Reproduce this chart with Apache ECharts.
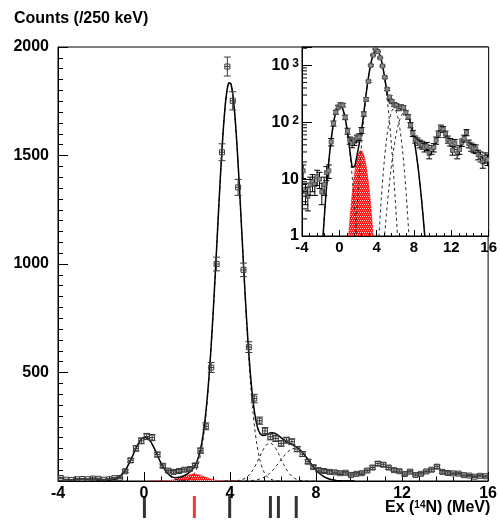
<!DOCTYPE html>
<html><head><meta charset="utf-8">
<script src="https://cdn.jsdelivr.net/npm/echarts@6/dist/echarts.min.js"></script>
<style>html,body{margin:0;padding:0;background:#fff;}#c{width:500px;height:524px;}</style>
</head><body><div id="c"></div>
<script>
// ---- data ----
const binLow = -4, binWidth = 0.25;
const counts = [14,6,5,8,9,8,11,10,6,8,13,14,45,95,150,185,205,200,122,70,
  48,42,46,52,55,72,140,252,523,1000,1515,1910,1752,1353,973,617,380,278,231,204,
  196,173,188,181,147,124,89,64,50,46,42,40,36,38,28,33,36,48,62,80,
  75,62,50,45,32,43,28,33,44,52,66,42,37,35,34,27,25,20,24,22];
// Gaussian fit components (centre MeV, amplitude counts, sigma MeV)
const fitCentres    = [0.05, 2.31, 3.98, 5.85, 7.00];
const fitAmplitudes = [203, 32, 1840, 175, 150];
const fitSigmas     = [0.55, 0.50, 0.58, 0.50, 0.68];
const hatchedComponent = 1;
const fitRange = [-2.2, 9.8];
const levelEnergies = [0, 3.948, 5.834, 6.204, 7.029];
const redLevelEnergies = [2.313];
const xTickLabels = [-4, 0, 4, 8, 12, 16];
const mainYTickLabels = [500, 1000, 1500, 2000];
const insetYTickLabels = [1, 10, 100, 1000];
const insetMinorTicks = [2,3,4,5,6,7,8,9,20,30,40,50,60,70,80,90,200,300,400,500,600,700,800,900,2000];

const FONT = 'Liberation Sans, Arial, Helvetica, sans-serif';
const binned = counts.map((c, i) => [binLow + binWidth * (i + 0.5), c, Math.sqrt(c)]);
function gauss(k, x) { const d = x - fitCentres[k]; return fitAmplitudes[k] * Math.exp(-d * d / (2 * fitSigmas[k] * fitSigmas[k])); }
function sampleComponent(k) {
  const out = []; const lo = fitCentres[k] - 4.2 * fitSigmas[k], hi = fitCentres[k] + 4.2 * fitSigmas[k];
  for (let x = lo; x <= hi + 1e-9; x += 0.02) out.push([x, gauss(k, x)]);
  return out;
}
function sampleTotal() {
  const out = [];
  for (let x = fitRange[0]; x <= fitRange[1] + 1e-9; x += 0.02) {
    let s = 0; for (let k = 0; k < fitCentres.length; k++) s += gauss(k, x);
    out.push([x, s]);
  }
  return out;
}

// red checkered pattern
const pat = document.createElement('canvas'); pat.width = 4; pat.height = 4;
const pc = pat.getContext('2d');
pc.fillStyle = '#ff1a1a'; pc.fillRect(0, 0, 4, 4);
pc.fillStyle = '#ffc8c8';
pc.fillRect(0, 0, 1, 1); pc.fillRect(2, 0, 1, 1); pc.fillRect(1, 2, 1, 1); pc.fillRect(3, 2, 1, 1);

function errRenderer(opts) {
  return function (params, api) {
    const x = api.value(0), y = api.value(1), e = api.value(2);
    const lowV = Math.max(y - e, opts.floor);
    const c = api.coord([x, y]);
    const lo = api.coord([x, lowV]);
    const hi = api.coord([x, y + e]);
    const xl = api.coord([x - binWidth / 2, y]);
    const xr = api.coord([x + binWidth / 2, y]);
    const st = { stroke: opts.stroke, lineWidth: 1 };
    const cw = opts.cap / 2;
    const ch = [
      { type: 'line', shape: { x1: c[0], y1: lo[1], x2: c[0], y2: hi[1] }, style: st },
      { type: 'line', shape: { x1: c[0] - cw, y1: lo[1], x2: c[0] + cw, y2: lo[1] }, style: st },
      { type: 'line', shape: { x1: c[0] - cw, y1: hi[1], x2: c[0] + cw, y2: hi[1] }, style: st },
      { type: 'line', shape: { x1: xl[0], y1: c[1], x2: xr[0], y2: c[1] }, style: st },
      { type: 'rect', shape: { x: c[0] - opts.box / 2, y: c[1] - opts.box / 2, width: opts.box, height: opts.box },
        style: { fill: opts.fill, stroke: opts.boxStroke, lineWidth: 1 } }
    ];
    return { type: 'group', children: ch };
  };
}

const series = [];
// ---------- main plot ----------
series.push({ type: 'line', xAxisIndex: 0, yAxisIndex: 0, data: sampleComponent(hatchedComponent), symbol: 'none',
  lineStyle: { color: '#ff0000', width: 0.5 }, areaStyle: { color: { image: pat, repeat: 'repeat' }, opacity: 1, origin: 'start' }, z: 2, silent: true });
for (let k = 0; k < fitCentres.length; k++) {
  if (k === hatchedComponent) continue;
  series.push({ type: 'line', xAxisIndex: 0, yAxisIndex: 0, data: sampleComponent(k), symbol: 'none',
    lineStyle: { color: '#222', width: 1, type: [3, 3] }, z: 3, silent: true });
}
series.push({ type: 'line', xAxisIndex: 0, yAxisIndex: 0, data: sampleTotal(), symbol: 'none',
  lineStyle: { color: '#000', width: 1.5 }, z: 4, silent: true });
series.push({ type: 'custom', xAxisIndex: 0, yAxisIndex: 0, data: binned, clip: true, z: 5,
  renderItem: errRenderer({ floor: 0, stroke: '#3a3a3a', cap: 7, box: 5, fill: 'rgba(255,255,255,0)', boxStroke: '#3a3a3a' }) });

// ---------- inset (log) ----------
series.push({ type: 'line', xAxisIndex: 1, yAxisIndex: 1, data: sampleComponent(hatchedComponent), symbol: 'none',
  lineStyle: { color: '#ff0000', width: 0.5 }, areaStyle: { color: { image: pat, repeat: 'repeat' }, opacity: 1, origin: 'start' }, z: 12, silent: true });
for (let k = 0; k < fitCentres.length; k++) {
  if (k === hatchedComponent) continue;
  series.push({ type: 'line', xAxisIndex: 1, yAxisIndex: 1, data: sampleComponent(k), symbol: 'none',
    lineStyle: { color: '#222', width: 1, type: [3, 3] }, z: 13, silent: true });
}
series.push({ type: 'line', xAxisIndex: 1, yAxisIndex: 1, data: sampleTotal(), symbol: 'none',
  lineStyle: { color: '#000', width: 1.5 }, z: 14, silent: true });
series.push({ type: 'custom', xAxisIndex: 1, yAxisIndex: 1, data: binned, clip: true, z: 15,
  renderItem: errRenderer({ floor: 0.5, stroke: '#000', cap: 6, box: 4, fill: '#8a8a8a', boxStroke: '#555' }) });
// inset log minor ticks
series.push({ type: 'custom', xAxisIndex: 1, yAxisIndex: 1, data: insetMinorTicks.map(v => [-4, v]), z: 16, silent: true,
  renderItem: function (params, api) {
    const p = api.coord([api.value(0), api.value(1)]);
    return { type: 'line', shape: { x1: p[0], y1: p[1], x2: p[0] + 5, y2: p[1] }, style: { stroke: '#000', lineWidth: 1 } };
  } });

// ---------- level markers ----------
series.push({ type: 'scatter', xAxisIndex: 2, yAxisIndex: 2, data: levelEnergies.map(e => [e, 0.5]), symbol: 'rect', symbolSize: [3, 22],
  itemStyle: { color: '#000' }, silent: true });
series.push({ type: 'scatter', xAxisIndex: 2, yAxisIndex: 2, data: redLevelEnergies.map(e => [e, 0.5]), symbol: 'rect', symbolSize: [3, 22],
  itemStyle: { color: '#ff0000' }, silent: true });

const labelStyle = { color: '#000', fontFamily: FONT, fontWeight: 'bold', fontSize: 16 };
const option = {
  animation: false,
  backgroundColor: '#fff',
  grid: [
    { left: 58, top: 47, width: 432, height: 434, show: true, borderColor: '#000', borderWidth: 1, backgroundColor: 'rgba(0,0,0,0)', z: 0 },
    { left: 302, top: 47, width: 190, height: 189, show: true, borderColor: '#000', borderWidth: 1, backgroundColor: '#fff', z: 10 },
    { left: 58, top: 496, width: 432, height: 22, show: false }
  ],
  xAxis: [
    { gridIndex: 0, type: 'value', min: -4, max: 16, interval: 4, axisLine: { show: true, onZero: false, lineStyle: { color: '#000' } },
      axisTick: { inside: true, length: 9, lineStyle: { color: '#000' } },
      minorTick: { show: true, splitNumber: 5, length: 4.5, lineStyle: { color: '#000' } },
      splitLine: { show: false },
      axisLabel: Object.assign({ margin: 5, formatter: v => xTickLabels.includes(v) ? String(v) : '' }, labelStyle) },
    { gridIndex: 1, type: 'value', min: -4, max: 16, interval: 4, z: 20, axisLine: { show: true, onZero: false, lineStyle: { color: '#000' } },
      axisTick: { inside: true, length: 6, lineStyle: { color: '#000' } },
      minorTick: { show: true, splitNumber: 5, length: 3, lineStyle: { color: '#000' } },
      splitLine: { show: false },
      axisLabel: Object.assign({ margin: 4, formatter: v => xTickLabels.includes(v) ? String(v) : '' }, labelStyle, { fontSize: 15 }) },
    { gridIndex: 2, type: 'value', min: -4, max: 16, show: false }
  ],
  yAxis: [
    { gridIndex: 0, type: 'value', min: 0, max: 2000, interval: 500, axisLine: { show: true, onZero: false, lineStyle: { color: '#000' } },
      axisTick: { inside: true, length: 10, lineStyle: { color: '#000' } },
      minorTick: { show: true, splitNumber: 10, length: 5, lineStyle: { color: '#000' } },
      splitLine: { show: false },
      axisLabel: Object.assign({ margin: 9, formatter: v => mainYTickLabels.includes(v) ? String(v) : '' }, labelStyle) },
    { gridIndex: 1, type: 'log', logBase: 10, min: 1, max: 2100, z: 20, axisLine: { show: true, onZero: false, lineStyle: { color: '#000' } },
      axisTick: { inside: true, length: 10, lineStyle: { color: '#000' } },
      splitLine: { show: false },
      axisLabel: Object.assign({ margin: 3,
        formatter: v => { const r = Math.round(v); if (!insetYTickLabels.includes(r) || Math.abs(v - r) > 1e-6) return ''; if (r === 1) return '1'; if (r === 10) return '10'; return '10{s|' + Math.round(Math.log10(r)) + '}'; },
        rich: { s: { fontSize: 12, fontWeight: 'bold', fontFamily: FONT, color: '#000', verticalAlign: 'top', padding: [0, 0, 0, 3] } } }, labelStyle) },
    { gridIndex: 2, type: 'value', min: 0, max: 1, show: false }
  ],
  graphic: [
    { type: 'text', left: 14, top: 11, z: 50, style: { text: 'Counts (/250 keV)', font: 'bold 16px ' + FONT, fill: '#000' } },
    { type: 'text', left: 385, top: 500, z: 50, style: { text: 'Ex ({s|14}N) (MeV)', font: 'bold 16px ' + FONT, fill: '#000',
      rich: { s: { fontSize: 10, fontWeight: 'bold', fontFamily: FONT, verticalAlign: 'top' } } } }
  ],
  series: series
};
const chart = echarts.init(document.getElementById('c'), null, { renderer: 'canvas' });
chart.setOption(option);
</script></body></html>
